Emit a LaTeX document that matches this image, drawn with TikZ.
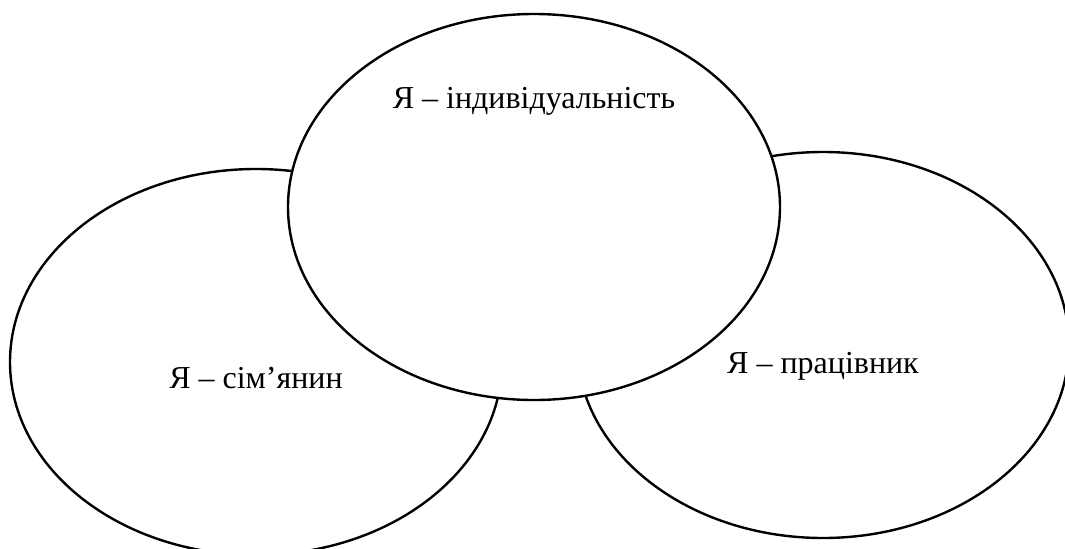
\documentclass[tikz,border=0pt]{standalone}
\usepackage{fontspec}
\setmainfont{Liberation Serif}
\usetikzlibrary{shapes.geometric}

\begin{document}
\begin{tikzpicture}[
  x=0.5pt,
  y=0.5pt,
  line cap=round,
  line join=round,
  sphere/.style={
    ellipse,
    draw=black,
    fill=white,
    line width=1.2pt,
    inner sep=0pt,
    outer sep=0pt,
    minimum width=246pt,
    minimum height=193pt
  },
  caption/.style={
    anchor=base,
    inner sep=0pt,
    font=\fontsize{16}{19}\selectfont
  }
]

  % рамка
  \path[use as bounding box]
    (0,0) rectangle (1065,548);

  % нижні еліпси
  \node[sphere] (family) at (256,186) {};
  \node[sphere] (worker) at (823,203) {};

  % верхній еліпс поверх них
  \node[sphere] (indiv) at (534,341) {};

  % підписи
  \node[caption] (tIndiv)
    at ([yshift=49.5pt]indiv.center)
    {Я – індивідуальність};

  \node[caption] (tFamily)
    at ([yshift=-13pt]family.center)
    {Я – сім’янин};

  \node[caption] (tWorker)
    at ([yshift=-14pt]worker.center)
    {Я – працівник};

\end{tikzpicture}
\end{document}
